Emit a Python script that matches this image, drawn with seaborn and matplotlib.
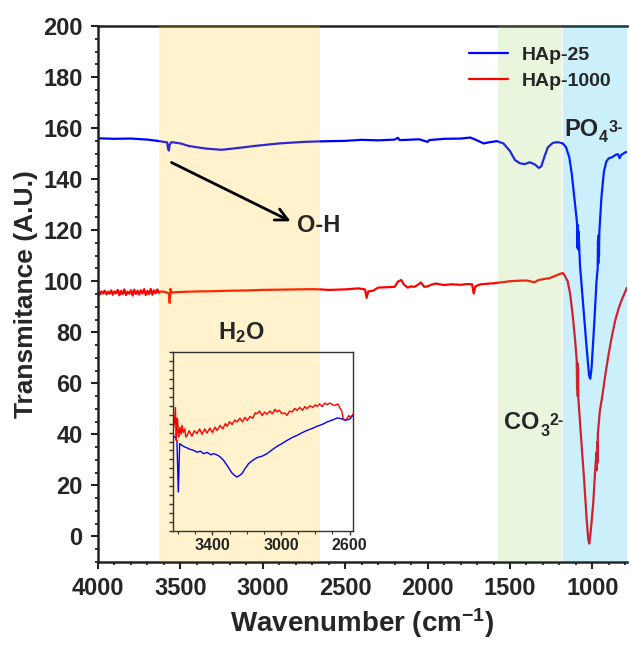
"""
FTIR spectra of HAp-25 and HAp-1000 with a zoomed inset of the O-H / H2O region.
"""

import numpy as np
import pandas as pd
import matplotlib
matplotlib.use("Agg")
import matplotlib.pyplot as plt
from matplotlib.ticker import MultipleLocator, FixedLocator, NullFormatter
import seaborn as sns

# ---- main spectra (wavenumber, transmittance) ----
hap25_wn = [4000, 3900, 3800, 3700, 3640, 3600, 3580, 3575, 3570, 3565, 3555, 3500,
            3450, 3350, 3250, 3150, 3050, 2900, 2750, 2650, 2500, 2400, 2300, 2200,
            2180, 2170, 2050, 2000, 1990, 1900, 1800, 1740, 1700, 1660, 1620, 1580,
            1540, 1500, 1470, 1440, 1410, 1380, 1350, 1325, 1310, 1290, 1270, 1240,
            1210, 1180, 1160, 1140, 1125, 1110, 1095, 1092, 1090, 1088, 1086, 1084,
            1075, 1055, 1035, 1020, 1013, 1005, 990, 975, 968, 966, 964, 962, 960,
            958, 945, 930, 915, 900, 880, 860, 845, 835, 825, 800, 790]
hap25_t = [156.0, 155.8, 155.9, 155.5, 155.0, 154.6, 154.4, 152.0, 151.2, 153.5, 154.5, 154.0,
           153.0, 152.0, 151.5, 152.2, 153.0, 154.0, 154.6, 154.8, 155.0, 155.4, 155.2, 155.5,
           156.2, 155.3, 155.6, 154.6, 155.3, 155.8, 155.9, 156.3, 155.2, 154.0, 154.5, 154.9,
           154.0, 151.0, 147.5, 146.2, 145.9, 146.6, 145.8, 144.4, 145.0, 149.0, 152.5, 154.2,
           154.5, 154.0, 152.5, 148.5, 142.0, 133.0, 124.0, 121.0, 113.0, 122.0, 112.5, 119.5,
           106.0, 90.0, 74.0, 63.0, 61.8, 66.0, 82.0, 100.0, 105.0, 116.0, 107.0, 118.0, 110.0,
           119.0, 133.0, 143.0, 147.0, 148.2, 148.6, 149.5, 149.8, 148.2, 149.5, 150.5, 150.7]

hap1000_wn = [4000, 3990, 3980, 3970, 3960, 3950, 3940, 3930, 3920, 3910, 3900, 3890,
              3880, 3870, 3860, 3850, 3840, 3830, 3820, 3810, 3800, 3790, 3780, 3770,
              3760, 3750, 3740, 3730, 3720, 3710, 3700, 3690, 3680, 3670, 3660, 3650,
              3640, 3630, 3620, 3590, 3570, 3565, 3560,
              3555, 3500, 3400, 3300, 3200, 3100, 3000, 2900, 2800, 2700, 2650, 2600,
              2500, 2420, 2380, 2370, 2360, 2330, 2300, 2200, 2180, 2160, 2145, 2120,
              2100, 2080, 2060, 2040, 2020, 2000, 1980, 1950, 1900, 1860, 1800, 1760,
              1730, 1720, 1710, 1680, 1600, 1550, 1500, 1450, 1400, 1350, 1330, 1300,
              1260, 1230, 1200, 1180, 1170, 1150, 1135, 1120, 1105, 1095, 1093, 1091,
              1089, 1087, 1085, 1070, 1050, 1035, 1025, 1019, 1010, 995, 982, 975,
              973, 971, 969, 967, 955, 940, 920, 900, 880, 860, 840, 820, 810, 800, 790]
hap1000_t = [95.5, 94.8, 96.0, 95.2, 96.3, 94.9, 95.9, 95.1, 96.4, 94.7, 96.0, 95.3,
             96.6, 94.5, 96.2, 95.0, 96.8, 94.6, 95.9, 95.1, 96.5, 94.4, 96.7, 95.0,
             96.3, 94.8, 96.5, 95.2, 96.9, 94.6, 96.2, 95.0, 97.0, 94.7, 96.4, 95.3,
             96.8, 95.4, 96.0, 95.8, 95.2, 91.5, 97.0,
             95.6, 95.8, 96.0, 96.1, 96.3, 96.4, 96.6, 96.7, 96.8, 96.9, 96.8, 96.6,
             96.8, 97.2, 96.8, 93.5, 96.0, 96.3, 97.5, 97.8, 99.8, 100.5, 98.8, 97.5,
             98.0, 97.8, 98.6, 99.5, 97.8, 98.0, 98.6, 99.1, 98.5, 98.8, 98.6, 98.9,
             98.8, 95.2, 98.0, 98.8, 99.2, 99.6, 100.0, 100.2, 100.3, 99.6, 100.4, 100.8,
             101.2, 102.0, 102.8, 103.2, 102.5, 100.0, 95.0, 87.0, 77.0, 69.0, 58.0, 68.0,
             55.0, 66.0, 54.0, 40.0, 22.0, 7.0, -1.0, -2.8, 2.0, 13.0, 27.0, 33.0,
             26.0, 37.0, 29.0, 40.0, 49.0, 55.0, 64.0, 72.0, 79.0, 85.0, 89.5, 93.0, 94.5, 96.0, 97.5]

# ---- inset (O-H / H2O region, arbitrary units) ----
inset25_wn = [3630, 3615, 3607, 3599, 3591, 3580, 3568, 3550, 3530, 3510, 3490, 3470,
              3451, 3430, 3410, 3393, 3370, 3354, 3335, 3315, 3300, 3286, 3270, 3257,
              3245, 3228, 3210, 3189, 3165, 3140, 3110, 3082, 3050, 3023, 2995, 2965,
              2935, 2907, 2875, 2848, 2820, 2790, 2760, 2732, 2700, 2673, 2650, 2625,
              2600, 2580]
inset25_t = [53.4, 52.0, 50.6, 21.8, 48.8, 48.0, 47.3, 46.5, 45.6, 45.1, 44.0, 44.6,
             43.2, 43.9, 42.6, 43.2, 42.4, 41.3, 39.5, 36.7, 34.5, 32.4, 31.0, 30.2,
             30.8, 32.0, 34.8, 37.6, 39.5, 41.0, 41.8, 43.2, 45.5, 47.3, 48.8, 50.6,
             52.2, 53.4, 55.0, 56.2, 57.2, 58.5, 59.5, 60.9, 62.0, 63.1, 62.8, 61.8,
             62.5, 64.6]

inset1000_wn = [3630, 3622, 3616, 3613, 3611, 3607, 3603, 3600, 3597, 3590, 3583, 3577,
                3570, 3562, 3555, 3548, 3535, 3520, 3505, 3490, 3475, 3460, 3445, 3432,
                3415, 3400, 3385, 3373, 3355, 3340, 3325, 3315, 3300, 3285, 3270, 3257,
                3240, 3225, 3210, 3198, 3180, 3165, 3150, 3140, 3125, 3110, 3095, 3082,
                3065, 3050, 3035, 3023, 3010, 2995, 2980, 2965, 2950, 2935, 2920, 2907,
                2890, 2875, 2860, 2848, 2830, 2815, 2800, 2790, 2775, 2760, 2745, 2732,
                2715, 2700, 2683, 2668, 2654, 2645, 2638, 2625, 2615, 2605, 2595, 2580]
inset1000_t = [56.2, 60.0, 69.0, 58.0, 50.6, 63.0, 61.8, 55.0, 52.5, 58.0, 54.0, 59.0,
               55.0, 57.0, 52.5, 53.4, 56.0, 53.0, 56.0, 54.4, 57.0, 54.0, 57.0, 54.7,
               57.5, 55.0, 58.0, 56.2, 59.0, 57.0, 60.0, 58.5, 61.0, 59.5, 62.0, 60.9,
               63.0, 61.0, 63.5, 61.8, 64.0, 63.0, 66.0, 65.5, 67.0, 64.5, 66.5, 65.2,
               67.0, 65.5, 68.0, 66.5, 67.5, 65.5, 66.0, 64.6, 67.0, 66.5, 68.5, 67.4,
               69.0, 67.5, 69.5, 68.3, 70.0, 69.0, 70.5, 69.6, 71.0, 69.5, 71.5, 70.6,
               71.5, 70.5, 70.2, 71.0, 68.3, 67.0, 62.8, 62.0, 62.8, 64.5, 63.5, 65.2]

# shaded bands (wavenumber ranges)
bands = [(3630, 2650, "#FFC000"), (1570, 1186, "#92D050"), (1181, 790, "#00B0F0")]

sns.set_style("ticks")
plt.rcParams["font.family"] = ["Liberation Sans", "DejaVu Sans"]
plt.rcParams["font.weight"] = "bold"
plt.rcParams["axes.labelweight"] = "bold"
plt.rcParams["mathtext.fontset"] = "custom"
for k in ["rm", "it", "bf", "sf"]:
    plt.rcParams["mathtext." + k] = "Liberation Sans:bold"

main_df = pd.concat([
    pd.DataFrame({"wn": hap25_wn, "t": hap25_t, "sample": "HAp-25"}),
    pd.DataFrame({"wn": hap1000_wn, "t": hap1000_t, "sample": "HAp-1000"}),
])
inset_df = pd.concat([
    pd.DataFrame({"wn": inset25_wn, "t": inset25_t, "sample": "HAp-25"}),
    pd.DataFrame({"wn": inset1000_wn, "t": inset1000_t, "sample": "HAp-1000"}),
])
palette = {"HAp-25": "#0000FF", "HAp-1000": "#FF0000"}


def ion_label(ax, x, y, base, sub, sup, size=17):
    """Chemical label like PO4^3- drawn as three pieces (keeps a plain hyphen)."""
    t0 = ax.text(x, y, base, fontsize=size, ha="left", va="center", zorder=5)
    t1 = ax.annotate(sub, xy=(1.0, 0.19), xycoords=t0, xytext=(0.5, -4),
                     textcoords="offset points", fontsize=size * 0.68,
                     ha="left", va="baseline", zorder=5)
    ax.annotate(sup, xy=(1.0, 0.92), xycoords=(t1, t0), xytext=(0.5, 0),
                textcoords="offset points", fontsize=size * 0.68,
                ha="left", va="top", zorder=5)


fig = plt.figure(figsize=(6.3, 6.46), dpi=100)
ax = fig.add_axes([98 / 630, 1 - 562 / 646, 529 / 630, 536 / 646])

sns.lineplot(data=main_df, x="wn", y="t", hue="sample", palette=palette,
             estimator=None, sort=False, lw=1.6, ax=ax)

for lo, hi, c in bands:
    ax.axvspan(lo, hi, color=c, alpha=0.2, lw=0, zorder=3)

ax.set_xlim(4000, 790)
ax.set_ylim(-10, 200)
ax.xaxis.set_major_locator(FixedLocator([4000, 3500, 3000, 2500, 2000, 1500, 1000]))
ax.xaxis.set_minor_locator(MultipleLocator(100))
ax.yaxis.set_major_locator(MultipleLocator(20))
ax.yaxis.set_minor_locator(MultipleLocator(5))
ax.tick_params(which="major", direction="out", length=5, width=1.5, labelsize=17, pad=6,
               color="#222222")
ax.tick_params(which="minor", direction="out", length=2.5, width=1.3, color="#222222")
for side in ["left", "bottom", "top"]:
    ax.spines[side].set_linewidth(1.8)
    ax.spines[side].set_color("#222222")
ax.spines["right"].set_visible(False)

ax.set_xlabel("Wavenumber (cm$^{-1}$)", fontsize=20, labelpad=4)
ax.set_ylabel("Transmitance (A.U.)", fontsize=19, labelpad=4)

ax.legend(loc="upper right", bbox_to_anchor=(0.985, 0.977), frameon=False,
          prop={"weight": "bold", "size": 14}, handlelength=2.0, handletextpad=0.7,
          labelspacing=0.45, borderaxespad=0)

# annotations
ax.annotate("", xy=(2816, 123), xytext=(3569, 147),
            arrowprops=dict(arrowstyle="->", lw=2, color="black", mutation_scale=22),
            zorder=5)
ax.text(2795, 122, "O-H", fontsize=17, ha="left", va="center", zorder=5)
ion_label(ax, 1171, 159.5, "PO", "4", "3-")
ion_label(ax, 1535, 44.5, "CO", "3", "2-")
ax.text(3132, 80, "H$_2$O", fontsize=17, ha="center", va="center", zorder=5)

# inset
axin = fig.add_axes([173 / 630, 1 - 531 / 646, 180 / 630, 179 / 646])
axin.patch.set_alpha(0)
sns.lineplot(data=inset_df, x="wn", y="t", hue="sample", palette=palette,
             estimator=None, sort=False, lw=1.0, ax=axin, legend=False)
axin.set_xlim(3630, 2580)
axin.set_ylim(0, 100)
axin.xaxis.set_major_locator(FixedLocator([3400, 3000, 2600]))
axin.xaxis.set_minor_locator(MultipleLocator(100))
axin.yaxis.set_major_locator(MultipleLocator(5))
axin.yaxis.set_major_formatter(NullFormatter())
axin.set_xlabel("")
axin.set_ylabel("")
axin.tick_params(which="major", direction="out", length=3, width=1, labelsize=11.5, pad=2,
                 color="#333333")
axin.tick_params(which="minor", direction="out", length=1.8, width=0.8, color="#333333")
for s in axin.spines.values():
    s.set_linewidth(1.0)
    s.set_color("#333333")

fig.savefig("out.png", dpi=100)
